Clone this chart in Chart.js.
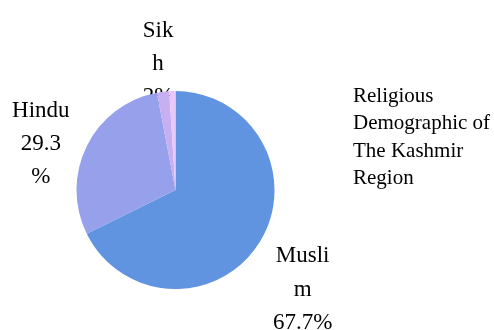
<!DOCTYPE html>
<html lang="en">
<head>
    <meta charset="UTF-8">
    <title>Religious Demographic of The Kashmir Region</title>
    <script src="https://cdn.jsdelivr.net/npm/chart.js"></script>
    <style>
        body {
            margin: 0;
            background: #ffffff;
        }

        #wrap {
            width: 494px;
            height: 330px;
            position: relative;
        }
    </style>
</head>
<body>
    <div id="wrap">
        <canvas id="myChart"></canvas>
    </div>

    <script>
        // dados
        const religions = ['Muslim', 'Hindu', 'Sikh', 'Other'];
        const shares = [67.7, 29.3, 2, 1];
        const sliceColors = ['#6194e0', '#97a0ea', '#c6b0f2', '#e8c8f7'];
        // rótulos quebrados como no original (vazio = sem rótulo)
        const sliceLabels = [
            ['Musli', 'm', '67.7%'],
            ['Hindu', '29.3', '%'],
            ['Sik', 'h', '2%'],
            []
        ];
        const titleLines = ['Religious', 'Demographic of', 'The Kashmir', 'Region'];

        const serif = '"Liberation Serif", "Times New Roman", serif';

        // deslocamento de cada rótulo a partir da borda da fatia
        const labelOffsets = [
            { dx: 43, dy: 20 },
            { dx: -46, dy: -29 },
            { dx: -5, dy: -55 },
            { dx: 0, dy: 0 }
        ];

        // rótulos desenhados antes das fatias (a pizza cobre o "2%")
        const sliceLabelPlugin = {
            id: 'sliceLabels',
            beforeDatasetsDraw(chart) {
                const ctx = chart.ctx;
                const meta = chart.getDatasetMeta(0);
                ctx.save();
                ctx.font = '23px ' + serif;
                ctx.fillStyle = '#000';
                ctx.textAlign = 'center';
                ctx.textBaseline = 'alphabetic';
                meta.data.forEach((arc, i) => {
                    const lines = sliceLabels[i];
                    if (!lines.length) return;
                    const p = arc.getProps(['x', 'y', 'startAngle', 'endAngle', 'outerRadius'], true);
                    const mid = (p.startAngle + p.endAngle) / 2;
                    const ex = p.x + Math.cos(mid) * p.outerRadius;
                    const ey = p.y + Math.sin(mid) * p.outerRadius;
                    const off = labelOffsets[i];
                    lines.forEach((t, k) => {
                        ctx.fillText(t, ex + off.dx, ey + off.dy + k * 33.3);
                    });
                });
                ctx.restore();
            }
        };

        const sideTitlePlugin = {
            id: 'sideTitle',
            afterDraw(chart) {
                const ctx = chart.ctx;
                ctx.save();
                ctx.font = '21px ' + serif;
                ctx.fillStyle = '#000';
                ctx.textAlign = 'left';
                ctx.textBaseline = 'alphabetic';
                titleLines.forEach((t, k) => {
                    ctx.fillText(t, 353, 101.5 + k * 27.5);
                });
                ctx.restore();
            }
        };

        const ctx = document.getElementById('myChart').getContext('2d');
        const myChart = new Chart(ctx, {
            type: 'pie',
            data: {
                labels: religions,
                datasets: [{
                    data: shares,
                    backgroundColor: sliceColors,
                    borderWidth: 0
                }]
            },
            options: {
                responsive: true,
                maintainAspectRatio: false,
                animation: false,
                layout: {
                    padding: { left: 76.5, right: 219.5, top: 91, bottom: 41 }
                },
                plugins: {
                    legend: { display: false },
                    tooltip: { enabled: false }
                }
            },
            plugins: [sliceLabelPlugin, sideTitlePlugin]
        });
    </script>
</body>
</html>
